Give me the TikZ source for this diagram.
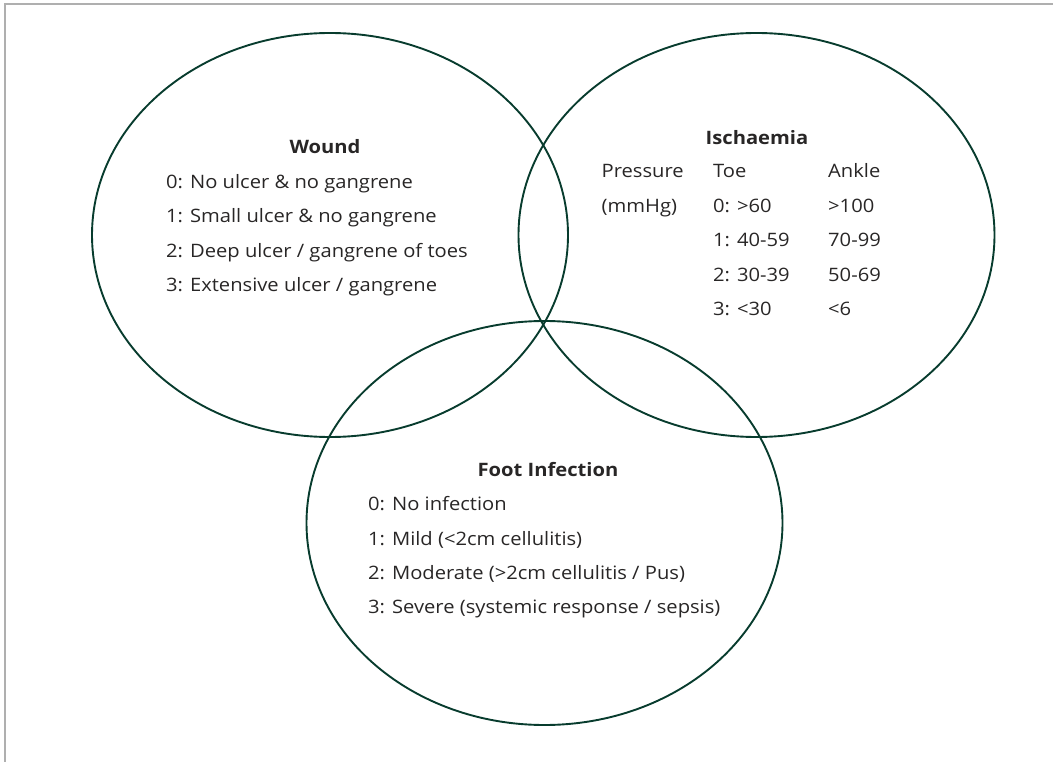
\documentclass[tikz,border=0pt]{standalone}
\usepackage{fontspec}
\setmainfont{Open Sans}[FakeStretch=1.09]
\usetikzlibrary{shapes.geometric}
\definecolor{ringgreen}{RGB}{8,60,46}
\definecolor{txt}{RGB}{40,38,38}
\definecolor{framegray}{RGB}{175,175,175}
\begin{document}
\begin{tikzpicture}[x=1pt,y=-1pt,
  ring/.style={draw=ringgreen, line width=1.9pt, ellipse, inner sep=0pt, outer sep=0pt,
    minimum width=476pt, minimum height=404pt},
  item/.style={anchor=base west, inner sep=0pt, text=txt, font=\fontsize{18.5}{20}\selectfont},
  heading/.style={anchor=base, inner sep=0pt, text=txt, font=\fontsize{18.5}{20}\selectfont\bfseries}]
\useasboundingbox (0,0) rectangle (1053,762);
\coordinate (fbl) at (5,762);
\coordinate (ftl) at (5,4);
\coordinate (ftr) at (1053,4);
\draw[framegray, line width=1.2pt] (fbl) -- (ftl) -- (ftr);
% circles
\node[ring] (wound) at (330,235) {};
\node[ring] (isch) at (756.5,235) {};
\node[ring] (infect) at (544.5,523) {};
% Wound
\node[heading] (wt) at (325,153.3) {Wound};
\node[item] (w0) at (166,188.3) {0: No ulcer \& no gangrene};
\node[item] (w1) at (166,222.7) {1: Small ulcer \& no gangrene};
\node[item] (w2) at (166,257.1) {2: Deep ulcer / gangrene of toes};
\node[item] (w3) at (166,291.5) {3: Extensive ulcer / gangrene};
% Ischaemia
\node[heading] (it) at (757,145) {Ischaemia};
\node[item] (ip1) at (601.5,178) {Pressure};
\node[item] (ip2) at (601.5,212.4) {(mmHg)};
\node[item] (toe) at (713,178) {Toe};
\node[item] (t0) at (713,212.4) {0: >60};
\node[item] (t1) at (713,246.8) {1: 40-59};
\node[item] (t2) at (713,281.1) {2: 30-39};
\node[item] (t3) at (713,315.4) {3: <30};
\node[item] (ank) at (828,178) {Ankle};
\node[item] (a0) at (828,212.4) {>100};
\node[item] (a1) at (828,246.8) {70-99};
\node[item] (a2) at (828,281.1) {50-69};
\node[item] (a3) at (828,315.4) {<6};
% Foot infection
\node[heading] (ft) at (548,476) {Foot Infection};
\node[item] (f0) at (368,510.7) {0: No infection};
\node[item] (f1) at (368,545) {1: Mild (<2cm cellulitis)};
\node[item] (f2) at (368,579.3) {2: Moderate (>2cm cellulitis / Pus)};
\node[item] (f3) at (368,613.6) {3: Severe (systemic response / sepsis)};
\end{tikzpicture}
\end{document}
